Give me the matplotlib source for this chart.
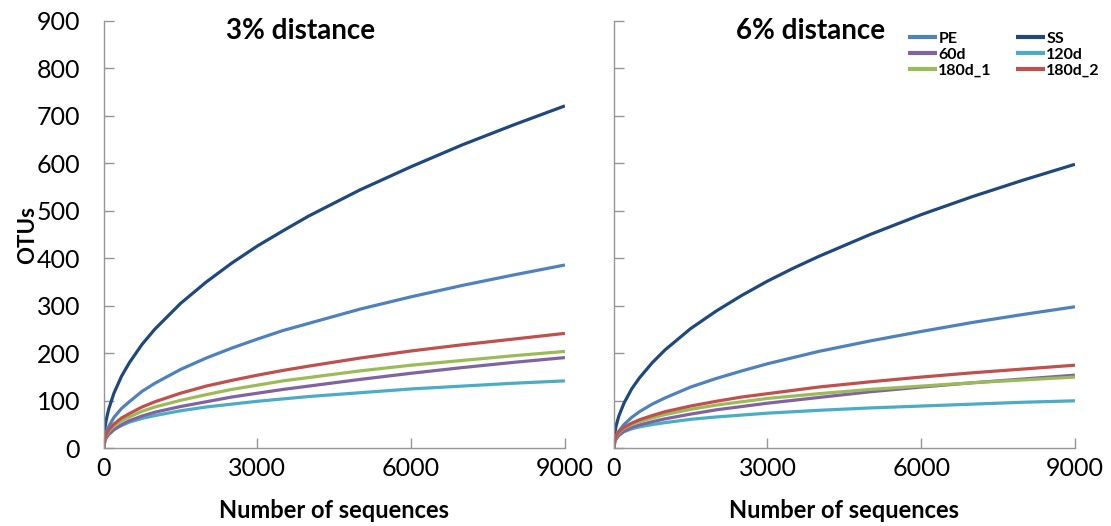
import matplotlib
matplotlib.use("Agg")
import matplotlib.pyplot as plt

plt.rcParams['font.family'] = ['Lato', 'DejaVu Sans']

# sequences sampled
seqs = [0, 25, 50, 100, 200, 350, 500, 750, 1000, 1500, 2000, 2500, 3000, 3500,
        4000, 5000, 6000, 7000, 8000, 9000]

# 3% distance
pe_3 = [0, 24, 34, 46, 65, 84, 98, 120, 137, 166, 190, 211, 230, 248,
        263, 293, 319, 343, 365, 386]
ss_3 = [0, 43, 60, 83, 116, 152, 180, 219, 251, 305, 350, 390, 426, 458,
        489, 544, 593, 639, 681, 721]
d60_3 = [0, 16, 22, 29, 39, 50, 58, 68, 76, 88, 98, 108, 116, 124,
         131, 145, 158, 170, 181, 191]
d120_3 = [0, 18, 25, 32, 40, 48, 55, 63, 69, 79, 87, 93, 99, 104,
          109, 117, 125, 131, 137, 142]
d180_1_3 = [0, 20, 27, 36, 47, 58, 66, 78, 87, 101, 113, 124, 133, 142,
            149, 163, 175, 185, 195, 204]
d180_2_3 = [0, 21, 29, 39, 51, 64, 73, 87, 98, 116, 131, 143, 154, 164,
            173, 190, 205, 218, 230, 242]

# 6% distance
pe_6 = [0, 19, 26, 36, 50, 65, 77, 93, 106, 129, 147, 163, 178, 191,
        204, 226, 246, 265, 282, 298]
ss_6 = [0, 35, 49, 68, 95, 125, 148, 180, 207, 252, 289, 322, 352, 379,
        404, 450, 492, 530, 565, 598]
d60_6 = [0, 15, 20, 27, 36, 44, 49, 56, 62, 72, 81, 88, 95, 101,
         107, 119, 129, 138, 146, 154]
d120_6 = [0, 17, 22, 28, 35, 41, 45, 50, 54, 61, 66, 70, 74, 77,
          80, 85, 89, 93, 97, 100]
d180_1_6 = [0, 19, 25, 33, 42, 50, 56, 64, 71, 82, 91, 98, 105, 110,
            115, 124, 131, 138, 144, 150]
d180_2_6 = [0, 20, 27, 35, 44, 53, 60, 69, 77, 89, 99, 108, 115, 122,
            129, 140, 150, 159, 167, 175]

names = ["PE", "60d", "180d_1", "SS", "120d", "180d_2"]
colors = ["#4F81BD", "#8064A2", "#9BBB59", "#1F497D", "#4BACC6", "#C0504D"]
panels = [
    ("3% distance", [pe_3, d60_3, d180_1_3, ss_3, d120_3, d180_2_3]),
    ("6% distance", [pe_6, d60_6, d180_1_6, ss_6, d120_6, d180_2_6]),
]
# draw order so red sits on top like the original
draw_order = [3, 0, 4, 1, 2, 5]

fig = plt.figure(figsize=(11.11, 5.26), dpi=100)
ax1 = fig.add_axes([0.0933, 0.1477, 0.4152, 0.8127])
ax2 = fig.add_axes([0.5524, 0.1477, 0.4152, 0.8127])
axes = [ax1, ax2]

gray = "#969696"
for i, (ax, (title, series)) in enumerate(zip(axes, panels)):
    lines = {}
    for k in draw_order:
        ln, = ax.plot(seqs, series[k], color=colors[k], lw=2.3, label=names[k],
                      solid_capstyle="butt", solid_joinstyle="round")
        lines[k] = ln
    ax.set_xlim(0, 9000)
    ax.set_ylim(0, 900)
    ax.set_xticks([0, 3000, 6000, 9000])
    ax.set_yticks(range(0, 901, 100))
    for s in ["top", "right"]:
        ax.spines[s].set_visible(False)
    for s in ["left", "bottom"]:
        ax.spines[s].set_color(gray)
        ax.spines[s].set_linewidth(1.0)
    ax.tick_params(direction="in", length=7, width=1.0, color=gray,
                   labelsize=18, pad=17)
    ax.tick_params(axis="x", pad=6)
    ax.set_xlabel("Number of sequences", fontsize=17, fontweight="bold", labelpad=14)
    ax.text(3850, 878, title, fontsize=20, fontweight="bold", ha="center", va="center")
    if i == 0:
        ax.set_ylabel("OTUs", fontsize=16, fontweight="bold", labelpad=-1)
    else:
        ax.tick_params(axis="y", labelleft=False)
        handles = [lines[k] for k in range(6)]
        leg = ax.legend(handles, names, ncol=2, frameon=False, loc="upper right",
                        bbox_to_anchor=(1.085, 1.008),
                        prop={"weight": "bold", "size": 11.5},
                        handlelength=1.8, handletextpad=0.1, columnspacing=1.5,
                        labelspacing=0.1)
        for h in leg.get_lines():
            h.set_linewidth(3)

fig.savefig("out.png", dpi=100)
